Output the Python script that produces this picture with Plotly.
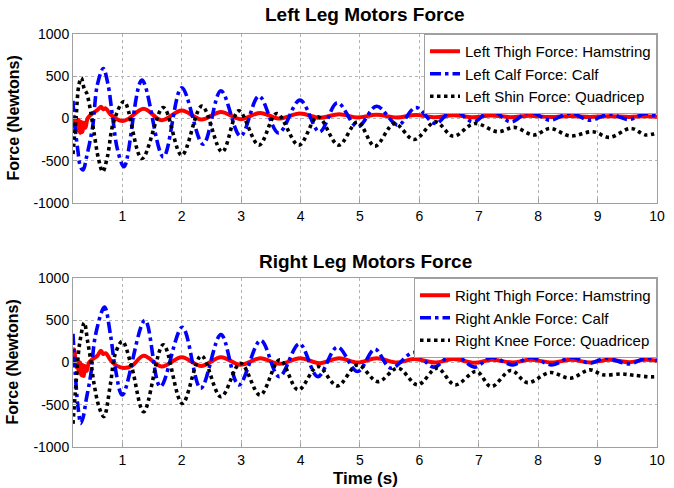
import plotly.graph_objects as go

# ---------------- data ----------------
# Left leg
t_left_thigh = [0.17, 0.19, 0.21, 0.23, 0.25, 0.27, 0.29, 0.31, 0.33, 0.35, 0.38, 0.41, 0.45, 0.50,
                0.58, 0.64, 0.68, 0.72, 0.80, 0.91, 1.00, 1.10, 1.36, 1.66, 2.00, 2.33, 2.66, 2.99,
                3.32, 3.63, 3.99, 4.32, 4.65, 4.96, 5.28, 5.62, 5.94, 6.27, 6.57, 6.91, 7.21, 7.54,
                7.85, 8.20, 8.54, 8.87, 9.20, 9.53, 9.81, 10.0]
f_left_thigh = [-40, 20, -110, 0, -140, -20, -170, -40, -160, -50, -110, -10, 30, 60,
                100, 140, 110, 120, 50, -10, -30, -5, 115, -20, 95, -12, 78, -8,
                66, 0, 58, 8, 50, 12, 45, 12, 42, 14, 38, 15, 35, 16,
                33, 17, 30, 18, 28, 18, 28, 22]

t_left_calf = [0.17, 0.19, 0.25, 0.30, 0.34, 0.40, 0.50, 0.58, 0.68, 0.76, 0.84, 0.92, 1.03,
               1.33, 1.69, 2.00, 2.36, 2.66, 2.99, 3.30, 3.63, 3.99, 4.32, 4.62, 4.96, 5.28,
               5.64, 5.94, 6.27, 6.57, 6.91, 7.21, 7.54, 7.85, 8.20, 8.54, 8.87, 9.20, 9.53,
               9.81, 10.0]
f_left_calf = [210, 0, -370, -580, -610, -450, -100, 400, 590, 400, 0, -370, -570,
               454, -454, 363, -304, 328, -209, 265, -170, 217, -158, 186, -99, 145,
               -78, 130, -60, 105, -40, 98, -40, 78, -20, 66, -20, 51, -12,
               59, 20]

t_left_shin = [0.17, 0.22, 0.27, 0.31, 0.36, 0.40, 0.45, 0.52, 0.60, 0.67, 0.75, 0.85, 1.03,
               1.33, 1.69, 2.00, 2.34, 2.68, 2.96, 3.30, 3.60, 3.97, 4.29, 4.64, 4.96, 5.25,
               5.58, 5.91, 6.27, 6.57, 6.93, 7.32, 7.60, 7.93, 8.20, 8.54, 8.92, 9.20, 9.56,
               9.81, 10.0]
f_left_shin = [-420, 0, 400, 480, 350, 300, 150, -150, -480, -630, -450, -50, 200,
               -474, 130, -435, 146, -395, 91, -316, 59, -316, 20, -316, -40, -328,
               -59, -249, -40, -209, -59, -156, -105, -195, -117, -207, -156, -223, -117,
               -195, -168]

# Right leg
t_right_thigh = [0.17, 0.19, 0.21, 0.23, 0.25, 0.27, 0.29, 0.31, 0.33, 0.35, 0.37, 0.40, 0.44,
                 0.50, 0.58, 0.64, 0.68, 0.72, 0.80, 0.91, 1.03, 1.16, 1.36, 1.66, 2.00, 2.33,
                 2.66, 2.99, 3.32, 3.65, 3.99, 4.32, 4.65, 4.96, 5.28, 5.62, 5.91, 6.27, 6.57,
                 6.93, 7.21, 7.57, 7.87, 8.23, 8.56, 8.87, 9.20, 9.53, 9.81, 10.0]
f_right_thigh = [160, 150, 10, -60, 20, -120, 0, -150, -30, -160, -40, -100, 0,
                 40, 80, 140, 100, 110, 30, -40, -65, -40, 79, -48, 63, -40,
                 63, -28, 51, -16, 51, -8, 51, 0, 51, 0, 40, 0, 40,
                 -4, 32, 0, 32, 0, 32, 0, 32, 4, 32, 20]

t_right_ankle = [0.17, 0.22, 0.26, 0.30, 0.34, 0.39, 0.47, 0.55, 0.70, 0.80, 0.88, 1.00,
                 1.38, 1.64, 2.01, 2.32, 2.66, 2.96, 3.33, 3.64, 3.98, 4.29, 4.62, 4.96,
                 5.25, 5.52, 5.91, 6.24, 6.57, 6.93, 7.21, 7.57, 7.87, 8.23, 8.56, 8.87,
                 9.14, 9.53, 9.81, 10.0]
f_right_ankle = [340, -250, -560, -720, -650, -450, -140, 330, 655, 330, -60, -385,
                 500, -286, 417, -306, 330, -266, 262, -167, 222, -167, 183, -107,
                 158, -67, 119, -55, 103, -55, 63, -28, 63, -28, 63, -8,
                 51, -16, 51, 24]

t_right_knee = [0.17, 0.22, 0.28, 0.36, 0.415, 0.47, 0.525, 0.61, 0.69, 0.80, 0.88, 1.00,
                1.16, 1.36, 1.69, 2.01, 2.33, 2.66, 2.99, 3.32, 3.65, 3.96, 4.29, 4.62,
                4.96, 5.30, 5.64, 5.97, 6.30, 6.60, 6.96, 7.21, 7.54, 7.82, 8.20, 8.54,
                8.87, 9.09, 9.40, 9.60, 9.90, 10.0]
f_right_knee = [-725, -255, 215, 470, 255, 20, -255, -530, -640, -255, 98, 250,
                -59, -583, 210, -484, 79, -405, -8, -385, 32, -325, -48, -277,
                -28, -226, -67, -265, -67, -265, -107, -285, -95, -238, -119, -186,
                -87, -146, -136, -150, -170, -165]

x_ticks = [1, 2, 3, 4, 5, 6, 7, 8, 9, 10]
y_ticks = [-1000, -500, 0, 500, 1000]
y_tick_labels = ["-1000", "-500", "0", "500", "1000"]

titles = ["Left Leg Motors Force", "Right Leg Motors Force"]
names_left = ["Left Thigh Force: Hamstring", "Left Calf Force: Calf", "Left Shin Force: Quadricep"]
names_right = ["Right Thigh Force: Hamstring", "Right Ankle Force: Calf", "Right Knee Force: Quadricep"]
y_label = "Force (Newtons)"
x_label = "Time (s)"

# ---------------- styling ----------------
FONT = "Liberation Sans, Arial, sans-serif"
RED, BLUE, BLACK = "#ff0000", "#0000ff", "#000000"
styles = [dict(color=RED, width=4, dash="solid"),
          dict(color=BLUE, width=3.6, dash="11px,4px,3.5px,4px"),
          dict(color=BLACK, width=3.6, dash="3.5px,3.5px")]

fig = go.Figure()

series_top = [(t_left_thigh, f_left_thigh), (t_left_calf, f_left_calf), (t_left_shin, f_left_shin)]
series_bot = [(t_right_thigh, f_right_thigh), (t_right_ankle, f_right_ankle), (t_right_knee, f_right_knee)]

for (t, f), nm, st in zip(series_top, names_left, styles):
    fig.add_trace(go.Scatter(x=t, y=f, mode="lines", name=nm, line=dict(shape="spline", smoothing=1.0, **st),
                             xaxis="x", yaxis="y", legend="legend"))
for (t, f), nm, st in zip(series_bot, names_right, styles):
    fig.add_trace(go.Scatter(x=t, y=f, mode="lines", name=nm, line=dict(shape="spline", smoothing=1.0, **st),
                             xaxis="x2", yaxis="y2", legend="legend2"))

axis_common = dict(
    showline=True, linecolor="#a0a0a0", linewidth=1, mirror=True,
    showgrid=True, gridcolor="#b4b4b4", griddash="dot", gridwidth=1,
    ticks="inside", ticklen=4, tickcolor="#a0a0a0",
    tickfont=dict(family=FONT, size=14, color="#000000"),
    zeroline=False,
)

top_dom = [0.5908, 1.0]
bot_dom = [0.0, 0.4092]

legend_common = dict(xanchor="right", yanchor="top",
                     bgcolor="white", bordercolor="#a0a0a0", borderwidth=1,
                     font=dict(family=FONT, size=15, color="black"), itemwidth=30,
                     tracegroupgap=0)

fig.update_layout(
    width=674, height=488,
    paper_bgcolor="white", plot_bgcolor="white",
    margin=dict(l=73, r=9, t=34, b=41),
    showlegend=True,
    xaxis=dict(domain=[0, 1], range=[0.17, 10], tickvals=x_ticks, anchor="y", **axis_common),
    yaxis=dict(domain=top_dom, range=[-1000, 1000], tickvals=y_ticks, ticktext=y_tick_labels,
               anchor="x", **axis_common),
    xaxis2=dict(domain=[0, 1], range=[0.17, 10], tickvals=x_ticks, anchor="y2", **axis_common),
    yaxis2=dict(domain=bot_dom, range=[-1000, 1000], tickvals=y_ticks, ticktext=y_tick_labels,
                anchor="x2", **axis_common),
    legend=dict(x=1.0, y=1.0, **legend_common),
    legend2=dict(x=1.0, y=0.4092, **legend_common),
    annotations=[
        dict(text="<b>" + titles[0] + "</b>", xref="paper", yref="paper", x=0.5, y=1.0, yshift=7,
             xanchor="center", yanchor="bottom", showarrow=False,
             font=dict(family=FONT, size=19, color="black")),
        dict(text="<b>" + titles[1] + "</b>", xref="paper", yref="paper", x=0.5, y=0.4092, yshift=4,
             xanchor="center", yanchor="bottom", showarrow=False,
             font=dict(family=FONT, size=19, color="black")),
        dict(text="<b>" + y_label + "</b>", xref="paper", yref="paper", x=0, xshift=-60,
             y=0.7954, textangle=-90, xanchor="center", yanchor="middle", showarrow=False,
             font=dict(family=FONT, size=16, color="black")),
        dict(text="<b>" + y_label + "</b>", xref="paper", yref="paper", x=0, xshift=-60,
             y=0.2046, textangle=-90, xanchor="center", yanchor="middle", showarrow=False,
             font=dict(family=FONT, size=16, color="black")),
        dict(text="<b>" + x_label + "</b>", xref="paper", yref="paper", x=0.5, y=0, yshift=-20,
             xanchor="center", yanchor="top", showarrow=False,
             font=dict(family=FONT, size=17, color="black")),
    ],
)

fig.write_html("out.html")
